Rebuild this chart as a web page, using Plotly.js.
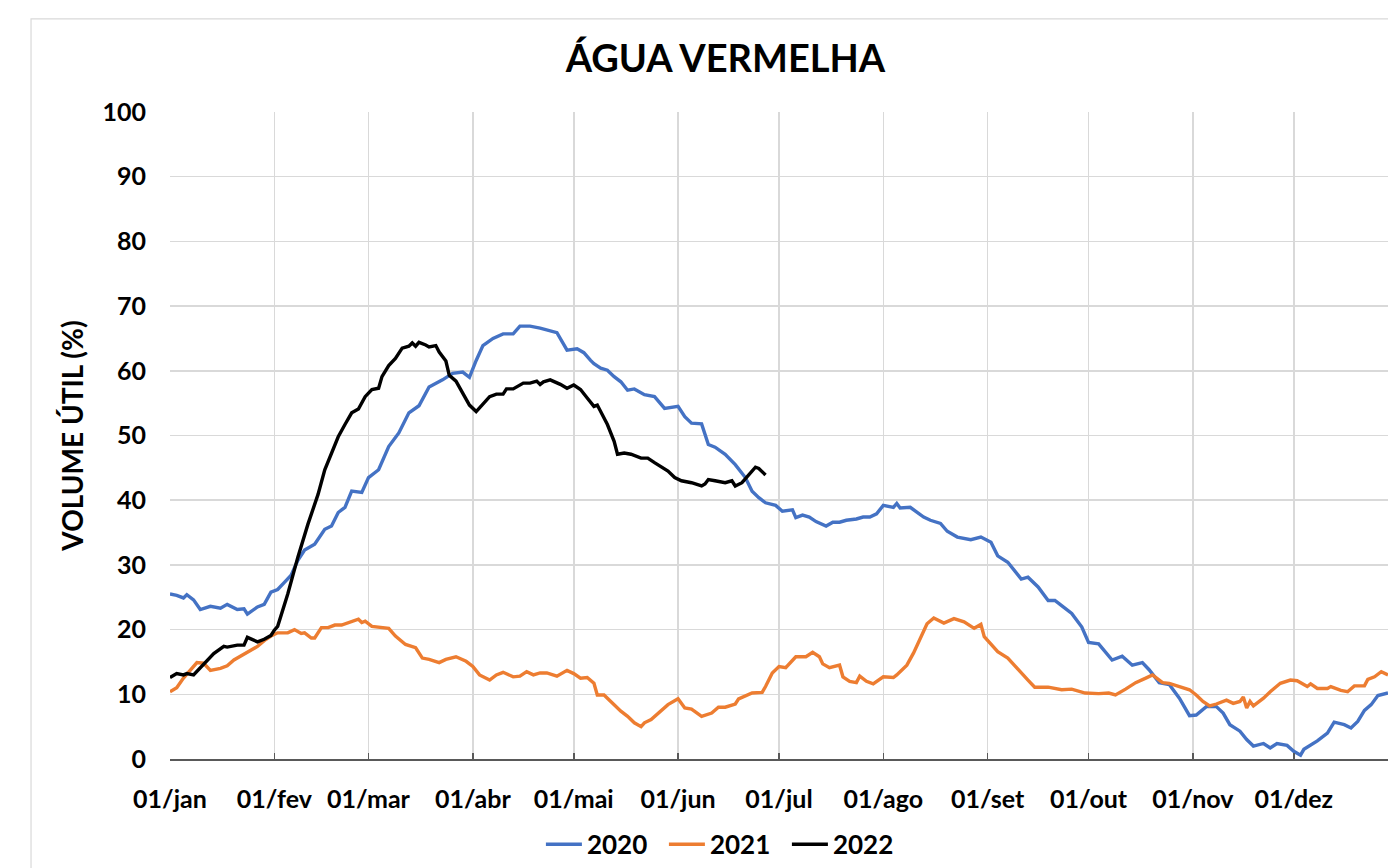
<!DOCTYPE html>
<html><head><meta charset="utf-8">
<script src="https://cdn.plot.ly/plotly-3.0.1.min.js"></script>
<style>html,body{margin:0;padding:0;background:#fff}#chart{width:1388px;height:868px}</style>
</head><body><div id="chart"></div>
<script>
const chartTitle = 'ÁGUA VERMELHA';
const yTitle = 'VOLUME ÚTIL (%)';
const monthTicks = [0,31,59,90,120,151,181,212,243,273,304,334];
const monthLabels = ['01/jan','01/fev','01/mar','01/abr','01/mai','01/jun','01/jul','01/ago','01/set','01/out','01/nov','01/dez'];
const seriesNames = ['2020','2021','2022'];

const days2020 = [0,2,4,5,7,9,12,15,17,20,22,23,26,28,30,32,34,36,38,40,43,46,48,50,52,54,57,59,62,65,68,71,74,77,81,84,87,89,91,93,96,99,102,104,107,110,115,116,118,121,123,125,126,128,130,132,134,136,138,141,144,147,151,153,155,158,160,162,165,168,171,173,175,177,180,182,185,186,188,190,192,195,197,199,201,204,206,208,210,212,215,216,217,220,224,226,229,231,234,238,241,244,246,249,253,255,258,261,263,265,268,271,273,276,278,280,283,286,289,291,294,297,300,303,305,308,311,313,315,318,320,322,325,327,329,332,334,336,337,341,344,346,349,351,353,355,357,359,362];
const vol2020 = [25.5,25.3,24.9,25.4,24.6,23.1,23.6,23.3,23.9,23.1,23.2,22.4,23.5,23.9,25.8,26.2,27.3,28.4,30.7,32.3,33.2,35.5,36.0,38.1,38.9,41.4,41.2,43.5,44.7,48.3,50.4,53.5,54.6,57.5,58.6,59.6,59.8,59.0,61.6,63.9,65.0,65.7,65.7,66.9,66.9,66.6,65.9,65.0,63.2,63.4,62.8,61.6,61.1,60.4,60.1,59.1,58.3,57.0,57.2,56.3,56.0,54.2,54.5,52.9,51.9,51.8,48.6,48.2,47.1,45.5,43.5,41.4,40.4,39.6,39.2,38.3,38.5,37.3,37.7,37.4,36.7,36.0,36.6,36.6,36.9,37.1,37.4,37.4,37.9,39.2,38.9,39.5,38.8,38.9,37.4,36.9,36.4,35.2,34.3,33.9,34.3,33.5,31.4,30.4,27.8,28.1,26.6,24.5,24.5,23.7,22.5,20.4,18.0,17.8,16.6,15.3,15.9,14.5,14.9,13.8,11.8,11.5,9.4,6.7,6.8,8.1,8.1,7.1,5.3,4.3,3.0,2.0,2.4,1.7,2.4,2.1,1.2,0.6,1.5,2.8,4.0,5.7,5.3,4.8,5.8,7.5,8.4,9.8,10.2];

const days2021 = [0,2,4,6,8,10,12,15,17,19,21,24,26,28,30,32,35,37,39,40,42,43,45,47,49,51,54,56,57,58,60,62,65,67,70,73,75,77,80,82,85,88,90,92,95,97,99,102,104,106,108,110,112,115,118,120,122,124,126,127,129,131,134,136,138,140,141,143,146,148,151,153,155,158,161,163,165,168,169,171,173,176,177,179,181,183,186,189,191,193,194,196,199,200,202,204,205,207,209,212,215,216,218,219,221,224,225,227,230,233,236,239,241,242,246,249,252,255,257,261,265,268,272,276,279,281,284,287,290,292,295,297,300,303,305,307,309,311,314,316,318,319,320,321,322,325,327,330,333,335,338,339,341,344,345,348,350,352,355,356,358,360,362];
const vol2021 = [10.4,11.0,12.5,13.8,14.9,14.8,13.7,14.0,14.4,15.3,15.9,16.8,17.4,18.3,19.0,19.5,19.5,20.0,19.4,19.5,18.7,18.7,20.3,20.3,20.7,20.7,21.2,21.6,21.1,21.3,20.5,20.4,20.2,19.0,17.7,17.2,15.6,15.4,14.9,15.4,15.8,15.1,14.3,13.0,12.2,13.0,13.4,12.7,12.8,13.5,13.0,13.3,13.3,12.8,13.7,13.2,12.5,12.6,11.7,9.9,9.9,8.9,7.4,6.6,5.6,5.0,5.6,6.1,7.4,8.4,9.3,7.9,7.7,6.6,7.1,8.0,8.0,8.5,9.3,9.7,10.2,10.3,11.2,13.3,14.3,14.1,15.8,15.8,16.5,15.8,14.7,14.1,14.5,12.7,12.0,11.8,12.8,12.0,11.6,12.7,12.6,13.0,13.9,14.5,16.4,19.7,20.9,21.8,21.0,21.7,21.2,20.2,20.8,18.9,16.6,15.6,13.8,12.2,11.1,11.1,10.7,10.8,10.2,10.1,10.2,9.9,10.8,11.8,12.5,13.0,11.8,11.7,11.2,10.7,9.9,8.9,8.2,8.5,9.1,8.6,8.9,9.6,7.9,8.9,8.2,9.4,10.4,11.7,12.2,12.1,11.2,11.6,10.9,10.9,11.2,10.6,10.4,11.3,11.3,12.3,12.7,13.5,13.0];

const days2022 = [0,2,4,5,7,11,13,16,17,20,22,23,26,28,30,31,32,35,38,41,44,46,48,50,52,54,56,58,60,62,63,65,67,69,71,72,73,74,76,77,79,80,82,83,85,87,89,91,93,95,97,99,100,102,105,107,109,110,111,113,116,118,120,122,124,126,127,130,132,133,135,137,140,142,144,146,148,150,152,155,158,159,160,162,165,167,168,170,172,174,175,177];
const vol2022 = [12.6,13.2,13.0,13.2,13.0,15.1,16.3,17.4,17.3,17.6,17.6,18.8,18.1,18.5,19.1,19.9,20.5,25.5,31.2,36.3,40.9,44.7,47.3,49.8,51.7,53.5,54.1,56.0,57.1,57.3,59.1,60.8,61.9,63.5,63.8,64.3,63.8,64.4,64.0,63.7,63.9,62.9,61.5,59.3,58.4,56.5,54.7,53.7,54.8,56.0,56.4,56.4,57.2,57.2,58.1,58.1,58.4,57.9,58.3,58.6,57.9,57.3,57.8,57.1,55.8,54.5,54.7,51.7,49.1,47.1,47.3,47.1,46.5,46.5,45.8,45.2,44.5,43.5,43.0,42.7,42.2,42.5,43.2,43.0,42.7,43.0,42.2,42.7,44.0,45.1,44.9,43.9];

const colors = ['#4472C4','#ED7D31','#000000'];
const FONT = 'Lato, "Open Sans", "Liberation Sans", sans-serif';

const traces = [
  {x: days2020, y: vol2020, name: seriesNames[0], mode: 'lines', line: {color: colors[0], width: 3.4}},
  {x: days2021, y: vol2021, name: seriesNames[1], mode: 'lines', line: {color: colors[1], width: 3.4}},
  {x: days2022, y: vol2022, name: seriesNames[2], mode: 'lines', line: {color: colors[2], width: 3.4}}
];

const layout = {
  width: 1388, height: 868,
  paper_bgcolor: '#ffffff', plot_bgcolor: '#ffffff',
  margin: {l: 170, r: 0, t: 112, b: 105},
  font: {family: FONT, color: '#000000', weight: 'bold'},
  title: {text: chartTitle, font: {family: FONT, size: 38, weight: 'bold', color: '#000'},
          x: 0.456, xref: 'paper', xanchor: 'center', y: 0.932, yref: 'container', yanchor: 'middle'},
  xaxis: {
    range: [0, 362], tickvals: monthTicks, ticktext: monthLabels,
    showgrid: true, gridcolor: '#d9d9d9', gridwidth: 1.5,
    showline: true, linecolor: '#595959', linewidth: 2,
    ticks: 'inside', ticklen: 6, tickcolor: '#595959', tickwidth: 1.5,
    tickfont: {family: FONT, size: 25, weight: 'bold', color: '#000'},
    ticklabelstandoff: 17, zeroline: false, fixedrange: true
  },
  yaxis: {
    range: [0, 100], dtick: 10, tick0: 0,
    showgrid: true, gridcolor: '#d9d9d9', gridwidth: 1.5,
    showline: false, zeroline: false, ticks: '',
    tickfont: {family: FONT, size: 25, weight: 'bold', color: '#000'},
    ticklabelstandoff: 23,
    title: {text: yTitle, font: {family: FONT, size: 28, weight: 'bold', color: '#000'}, standoff: 10},
    fixedrange: true
  },
  showlegend: true,
  legend: {orientation: 'h', x: 0.456, xanchor: 'center', y: -0.132, yanchor: 'middle',
           font: {family: FONT, size: 26, weight: 'bold', color: '#000'}, itemwidth: 36,
           entrywidth: 72, entrywidthmode: 'pixels',
           traceorder: 'normal', bgcolor: 'rgba(0,0,0,0)'},
  shapes: [{type: 'rect', xref: 'paper', yref: 'paper', x0: -0.1141, x1: 1.05, y0: -0.3, y1: 1.144,
            line: {color: '#d9d9d9', width: 1.2}, fillcolor: 'rgba(0,0,0,0)', layer: 'below'}]
};

Plotly.newPlot('chart', traces, layout, {displayModeBar: false, staticPlot: true});
</script>
</body></html>
